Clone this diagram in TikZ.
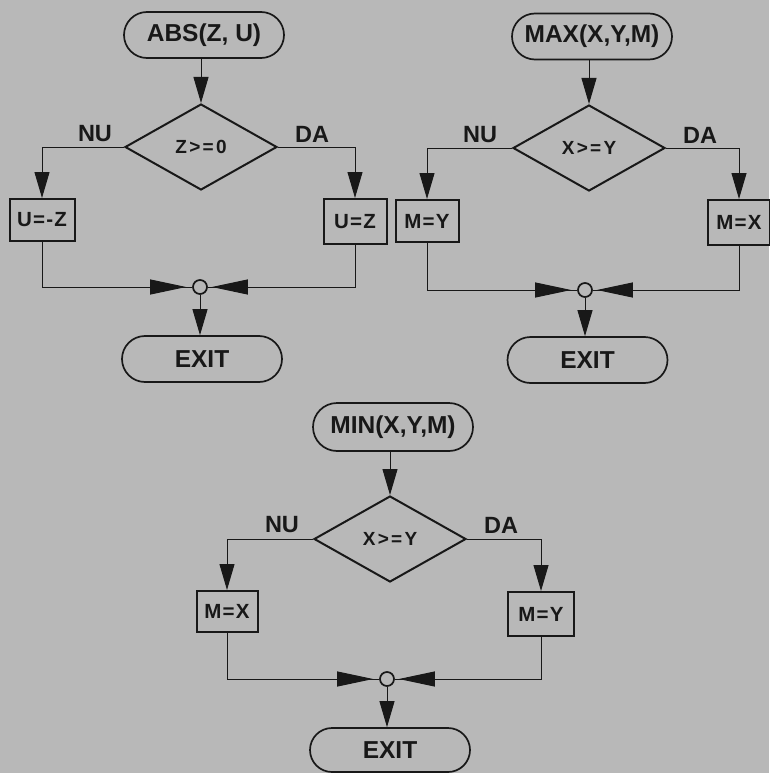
\documentclass[tikz,border=0pt]{standalone}
\usepackage{fontspec}
\setmainfont{Liberation Sans}
\newfontfamily\fcspaced[LetterSpace=12]{Liberation Sans}
\newfontfamily\fcboxed[LetterSpace=6]{Liberation Sans}
\usetikzlibrary{shapes.geometric,arrows.meta}
\definecolor{paper}{RGB}{184,184,184}
\definecolor{ink}{RGB}{24,24,24}
\begin{document}
\begin{tikzpicture}[x=1pt,y=-1pt,
  term/.style={draw=ink, line width=1.7pt, rounded corners=23pt, minimum width=160pt, minimum height=46pt, inner sep=0pt, text=ink, font=\bfseries\fontsize{24.5}{24.5}\selectfont},
  dec/.style={draw=ink, diamond, line width=2pt, minimum width=152pt, minimum height=86pt, inner sep=0pt, text=ink, font=\fcspaced\bfseries\fontsize{19}{19}\selectfont},
  proc/.style={draw=ink, line width=2pt, inner sep=0pt, text=ink, font=\fcboxed\bfseries\fontsize{20.5}{20.5}\selectfont},
  lab/.style={text=ink, font=\bfseries\fontsize{23.5}{23.5}\selectfont},
  junc/.style={circle, draw=ink, line width=1.7pt, minimum size=14pt, inner sep=0pt},
  conn/.style={draw=ink, line width=1pt},
  arr/.style={-{Triangle[length=26pt,width=15pt]}},
  harr/.style={-{Triangle[length=36pt,width=15pt]}}
]
\fill[paper] (0,0) rectangle (769,773);
\useasboundingbox (0,0) rectangle (769,773);

% ---------- ABS ----------
\node[term] (s1) at (204,35) {ABS(Z, U)};
\node[dec] (d1) at (201,147) {Z>=0};
\node[lab] (nu1) at (95,134) {NU};
\node[lab] (da1) at (312,134) {DA};
\node[proc, minimum width=65pt, minimum height=42pt] (b1l) at (42,220) {U=-Z};
\node[proc, minimum width=63pt, minimum height=45pt] (b1r) at (355,221.5) {U=Z};
\node[junc] (j1) at (200,287) {};
\node[term] (e1) at (202,359) {EXIT};
\draw[conn,arr] (s1.south -| d1.north) -- (d1.north);
\draw[conn,arr] (d1.west) -| (b1l.north);
\draw[conn,arr] (d1.east) -| (b1r.north);
\draw[conn] (b1l.south) |- (j1.west);
\draw[conn,harr,shorten >=6pt] (b1l.south) |- (j1.west);
\draw[conn] (b1r.south) |- (j1.east);
\draw[conn,harr,shorten >=4pt] (b1r.south) |- (j1.east);
\draw[conn,arr] (j1.south) -- (j1.south |- e1.north);

% ---------- MAX ----------
\node[term] (s2) at (592,36.5) {MAX(X,Y,M)};
\node[dec] (d2) at (589,148) {X>=Y};
\node[lab] (nu2) at (480,135) {NU};
\node[lab] (da2) at (700,135) {DA};
\node[proc, minimum width=63pt, minimum height=42pt] (b2l) at (427,221) {M=Y};
\node[proc, minimum width=62pt, minimum height=45pt] (b2r) at (739,222.5) {M=X};
\node[junc] (j2) at (585,290) {};
\node[term] (e2) at (587.5,360) {EXIT};
\draw[conn,arr] (s2.south -| d2.north) -- (d2.north);
\draw[conn,arr] (d2.west) -| (b2l.north);
\draw[conn,arr] (d2.east) -| (b2r.north);
\draw[conn] (b2l.south) |- (j2.west);
\draw[conn,harr,shorten >=6pt] (b2l.south) |- (j2.west);
\draw[conn] (b2r.south) |- (j2.east);
\draw[conn,harr,shorten >=4pt] (b2r.south) |- (j2.east);
\draw[conn,arr] (j2.south) -- (j2.south |- e2.north);

% ---------- MIN ----------
\node[term, minimum height=48pt, rounded corners=24pt] (s3) at (393,427) {MIN(X,Y,M)};
\node[dec] (d3) at (390,539) {X>=Y};
\node[lab] (nu3) at (282,525) {NU};
\node[lab] (da3) at (501,525) {DA};
\node[proc, minimum width=61pt, minimum height=41pt] (b3l) at (227,611.5) {M=X};
\node[proc, minimum width=66pt, minimum height=44pt] (b3r) at (541,614) {M=Y};
\node[junc] (j3) at (387,679) {};
\node[term, minimum height=44pt, rounded corners=22pt] (e3) at (390,750) {EXIT};
\draw[conn,arr] (s3.south -| d3.north) -- (d3.north);
\draw[conn,arr] (d3.west) -| (b3l.north);
\draw[conn,arr] (d3.east) -| (b3r.north);
\draw[conn] (b3l.south) |- (j3.west);
\draw[conn,harr,shorten >=6pt] (b3l.south) |- (j3.west);
\draw[conn] (b3r.south) |- (j3.east);
\draw[conn,harr,shorten >=4pt] (b3r.south) |- (j3.east);
\draw[conn,arr] (j3.south) -- (j3.south |- e3.north);
\end{tikzpicture}
\end{document}
